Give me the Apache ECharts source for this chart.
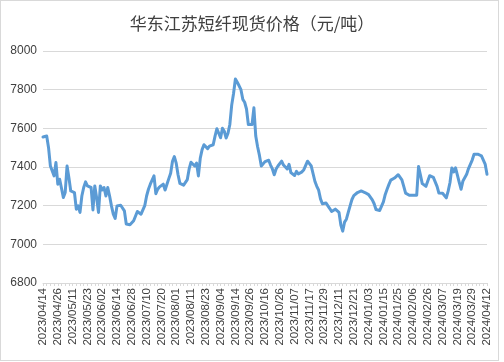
<!DOCTYPE html>
<html>
<head>
<meta charset="utf-8">
<script src="https://cdn.jsdelivr.net/npm/echarts@6/dist/echarts.min.js"></script>
<style>
html,body{margin:0;padding:0;background:#fff;}
#frame{position:absolute;left:0;top:0;width:499px;height:361px;border:1px solid #d9d9d9;box-sizing:border-box;}
#chart{position:absolute;left:0;top:0;width:504px;height:362px;}
</style>
</head>
<body>
<div id="frame"></div>
<div id="chart"></div>
<script>
const titleText = '华东江苏短纤现货价格（元/吨）';
const tickLabels = ['2023/04/14','2023/04/26','2023/05/11','2023/05/23','2023/06/02','2023/06/14','2023/06/28','2023/07/10','2023/07/20','2023/08/01','2023/08/11','2023/08/23','2023/09/04','2023/09/14','2023/09/26','2023/10/16','2023/10/26','2023/11/07','2023/11/17','2023/11/29','2023/12/11','2023/12/21','2024/01/03','2024/01/15','2024/01/25','2024/02/06','2024/02/26','2024/03/07','2024/03/19','2024/03/29','2024/04/12'];
const pointsPerLabel = 8;
const prices = [
7555,7560,7560,7500,7405,7397,7354,7423,7311,7337,
7290,7242,7268,7405,7345,7276,7272,7268,7182,7199,
7165,7250,7294,7323,7302,7294,7294,7178,7302,7240,
7165,7302,7281,7294,7250,7294,7250,7199,7156,7134,
7199,7207,7202,7202,7173,7105,7101,7101,7101,7122,
7130,7170,7165,7156,7156,7200,7250,7285,7311,7320,
7354,7262,7285,7297,7304,7311,7281,7311,7340,7368,
7430,7454,7420,7360,7315,7306,7306,7306,7335,7390,
7425,7420,7405,7420,7354,7445,7490,7515,7508,7495,
7508,7505,7515,7560,7598,7590,7551,7600,7585,7550,
7575,7620,7720,7780,7855,7838,7820,7800,7750,7735,
7700,7620,7620,7620,7706,7560,7505,7460,7405,7410,
7428,7425,7435,7410,7390,7360,7390,7405,7414,7430,
7410,7420,7390,7414,7371,7380,7356,7378,7364,7370,
7375,7386,7395,7430,7434,7405,7365,7325,7300,7280,
7235,7210,7205,7214,7199,7185,7170,7165,7182,7180,
7165,7100,7068,7115,7130,7165,7199,7232,7252,7262,
7268,7276,7276,7276,7268,7261,7257,7252,7230,7210,
7180,7176,7175,7198,7220,7258,7285,7310,7332,7341,
7343,7347,7360,7350,7333,7300,7265,7256,7254,7254,
7254,7254,7254,7402,7360,7314,7306,7300,7290,7355,
7352,7346,7340,7300,7265,7264,7264,7255,7240,7275,
7320,7395,7375,7396,7390,7320,7285,7328,7335,7362,
7392,7402,7436,7466,7466,7466,7460,7458,7450,7415,
7362
];
const yMin = 6800, yMax = 8000, yStep = 200;

const categories = prices.map((v, k) => (k % pointsPerLabel === 0 ? tickLabels[k / pointsPerLabel] : ''));

const chart = echarts.init(document.getElementById('chart'), null, {renderer: 'canvas'});
chart.setOption({
  animation: false,
  backgroundColor: 'transparent',
  title: {
    text: titleText,
    left: 'center',
    top: 10,
    textStyle: {fontFamily: '"Noto Sans CJK SC", sans-serif', fontSize: 17, fontWeight: 'normal', color: '#404040'}
  },
  grid: {left: 43, right: 17, top: 51, bottom: 79, containLabel: false},
  xAxis: {
    type: 'category',
    data: categories,
    boundaryGap: false,
    axisLine: {lineStyle: {color: '#d9d9d9', width: 1}},
    axisTick: {show: true, interval: 1, length: 3, lineStyle: {color: '#d9d9d9'}},
    axisLabel: {interval: pointsPerLabel - 1, rotate: 90, margin: 5, fontSize: 11.5, color: '#404040', fontFamily: '"Liberation Sans", Arial, sans-serif'},
    splitLine: {show: false}
  },
  yAxis: {
    type: 'value',
    min: yMin, max: yMax, interval: yStep,
    axisLine: {show: false},
    axisTick: {show: false},
    axisLabel: {fontSize: 12, color: '#404040', margin: 6, fontFamily: '"Liberation Sans", Arial, sans-serif', formatter: v => String(v)},
    splitLine: {lineStyle: {color: '#d9d9d9', width: 1}}
  },
  series: [{
    type: 'line',
    data: prices,
    showSymbol: false,
    symbol: 'none',
    lineStyle: {color: '#5B9BD5', width: 3, join: 'round', cap: 'round'},
    itemStyle: {color: '#5B9BD5'}
  }]
});
</script>
</body>
</html>
